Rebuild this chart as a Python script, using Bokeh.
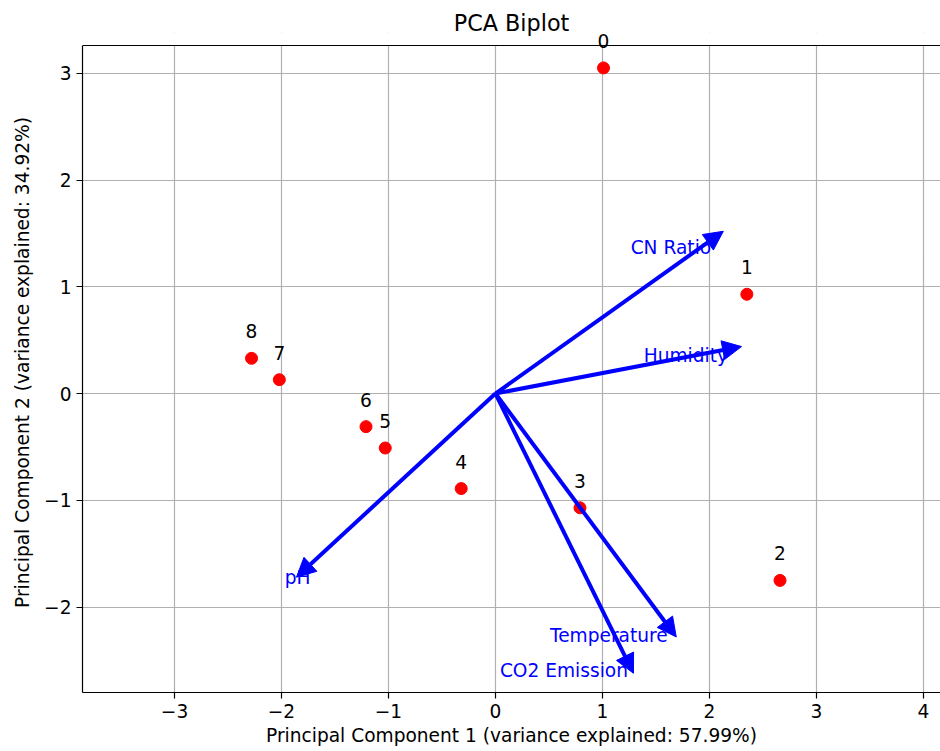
from bokeh.plotting import figure
from bokeh.models import (Arrow, NormalHead, ColumnDataSource, Span, FixedTicker, Range1d,
                          Label, BoxAnnotation)
from bokeh.core.properties import value
from bokeh.embed import file_html
from bokeh.resources import INLINE

# ---- data ----
sample_labels = ["0", "1", "2", "3", "4", "5", "6", "7", "8"]
pc1 = [1.01, 2.35, 2.66, 0.79, -0.32, -1.03, -1.21, -2.02, -2.28]
pc2 = [3.05, 0.93, -1.75, -1.07, -0.89, -0.51, -0.31, 0.13, 0.33]

feature_names = ["CN Ratio", "Humidity", "pH", "Temperature", "CO2 Emission"]
loading_x = [2.13, 2.30, -1.86, 1.69, 1.29]
loading_y = [1.52, 0.44, -1.72, -2.28, -2.62]
feature_label_x = [1.64, 1.78, -1.85, 1.06, 0.64]
feature_label_y = [1.37, 0.36, -1.72, -2.27, -2.59]

x_ticks = [-3, -2, -1, 0, 1, 2, 3, 4]
y_ticks = [-2, -1, 0, 1, 2, 3]

title_text = "PCA Biplot"
x_label = "Principal Component 1 (variance explained: 57.99%)"
y_label = "Principal Component 2 (variance explained: 34.92%)"

# axes limits (the visible box)
X_START, X_END = -3.86, 4.16
Y_START, Y_END = -2.80, 3.26

# layout: the frame is extended a little above the visible box so that the
# label of the top sample (which sits over the top spine) is not clipped
FRAME_BOX_PX = 647       # height of the visible axes box
EXTRA_TOP_PX = 13        # extra frame above the box
Y_TOP = Y_END + (Y_END - Y_START) * EXTRA_TOP_PX / FRAME_BOX_PX

FONT = "DejaVu Sans"
FS = "18.6px"

p = figure(width=940, height=751,
           x_range=Range1d(X_START, X_END), y_range=Range1d(Y_START, Y_TOP),
           output_backend="svg", toolbar_location=None,
           min_border_left=82, min_border_right=0,
           min_border_top=45 - EXTRA_TOP_PX, min_border_bottom=59,
           title=title_text)

p.title.align = "center"
p.title.text_font = FONT
p.title.text_font_size = "22.3px"
p.title.text_font_style = "normal"
p.title.text_color = "black"
p.title.standoff = -7

p.outline_line_color = None
p.background_fill_color = "white"
p.border_fill_color = "white"

p.grid.grid_line_color = "#b0b0b0"
p.grid.grid_line_width = 1.2

for ax, ticks in ((p.xaxis, x_ticks), (p.yaxis, y_ticks)):
    ax.ticker = FixedTicker(ticks=ticks)
    ax.major_label_overrides = {t: str(t).replace("-", "\u2212") for t in ticks}
    ax.major_tick_out = 6
    ax.major_tick_in = 0
    ax.minor_tick_line_color = None
    ax.axis_line_color = "black"
    ax.axis_line_width = 1.2
    ax.major_tick_line_color = "black"
    ax.major_tick_line_width = 1.2
    ax.major_label_text_font = FONT
    ax.major_label_text_font_size = FS
    ax.major_label_text_color = "black"
    ax.axis_label_text_font = FONT
    ax.axis_label_text_font_size = FS
    ax.axis_label_text_font_style = "normal"
    ax.axis_label_text_color = "black"
    ax.major_label_standoff = 5

p.yaxis.bounds = (Y_START, Y_END)
p.xaxis.axis_label = x_label
p.yaxis.axis_label = y_label
p.xaxis.axis_label_standoff = 4
p.yaxis.axis_label_standoff = 8

# hide grid lines above the visible box, then draw the top spine
p.add_layout(BoxAnnotation(bottom=Y_END, fill_color="white", fill_alpha=1.0,
                           line_color=None, level="underlay"))
p.add_layout(Span(location=Y_END, dimension="width", line_color="black", line_width=1.2))

# samples
pts = ColumnDataSource(dict(x=pc1, y=pc2))
p.scatter("x", "y", source=pts, size=12, fill_color="red", line_color="red")
for sx, sy, s in zip(pc1, pc2, sample_labels):
    p.add_layout(Label(x=sx, y=sy, text=s, y_offset=27,
                       text_align="center", text_baseline="alphabetic",
                       text_font=FONT, text_font_size=FS, text_color="black"))

# loadings
load = ColumnDataSource(dict(x0=[0] * len(loading_x), y0=[0] * len(loading_y),
                             x1=loading_x, y1=loading_y))
p.add_layout(Arrow(end=NormalHead(size=19, fill_color="blue", line_color="blue", line_width=1),
                   x_start="x0", y_start="y0", x_end="x1", y_end="y1", source=load,
                   line_color="blue", line_width=4))

labs = ColumnDataSource(dict(x=feature_label_x, y=feature_label_y, name=feature_names))
p.text("x", "y", text="name", source=labs,
       text_align="center", text_baseline="middle",
       text_font=value(FONT), text_font_size=value(FS), text_color="blue")

open("out.html", "w").write(file_html(p, INLINE))
